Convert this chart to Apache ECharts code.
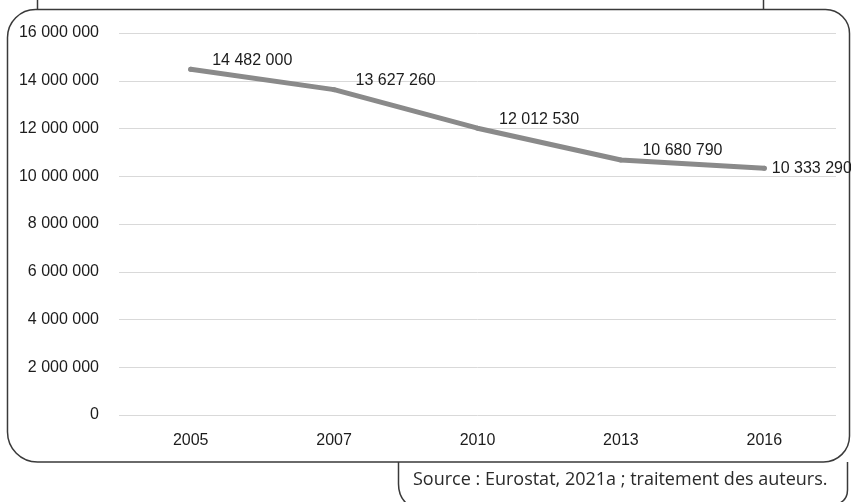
<!DOCTYPE html>
<html>
<head>
<meta charset="utf-8">
<style>
  html, body { margin: 0; padding: 0; background: #ffffff; }
  #chart { width: 851px; height: 502px; }
</style>
<script src="https://cdn.jsdelivr.net/npm/echarts@6/dist/echarts.min.js"></script>
</head>
<body>
<div id="chart"></div>
<script>
// Years and values of the series
const years = ['2005', '2007', '2010', '2013', '2016'];
const values = [14482000, 13627260, 12012530, 10680790, 10333290];

// Value axis range
const yMin = 0;
const yMax = 16000000;
const yStep = 2000000;

const sourceText = 'Source : Eurostat, 2021a ; traitement des auteurs.';

// French-style grouping with spaces: 14482000 -> "14 482 000"
function groupDigits(n) {
  return String(Math.round(n)).replace(/\B(?=(\d{3})+(?!\d))/g, ' ');
}

const textColor = '#1c1c1c';
const frameColor = '#3a3a3a';
const lineColor = '#8a8a8a';

const seriesData = values.map((v, i) => {
  const last = i === values.length - 1;
  return {
    value: v,
    label: { offset: last ? [0, 0] : [14, -9] }
  };
});

const frameStyle = { fill: null, stroke: frameColor, lineWidth: 1.5 };

const chart = echarts.init(document.getElementById('chart'), null, { renderer: 'canvas' });

chart.setOption({
  animation: false,
  backgroundColor: '#ffffff',
  grid: { left: 119, right: 15, top: 33, bottom: 87 },
  xAxis: {
    type: 'category',
    data: years,
    boundaryGap: true,
    axisLine: { show: false },
    axisTick: { show: false },
    axisLabel: {
      margin: 18,
      color: textColor,
      fontFamily: 'Liberation Sans, Arial, sans-serif',
      fontSize: 16
    }
  },
  yAxis: {
    type: 'value',
    min: yMin,
    max: yMax,
    interval: yStep,
    axisLine: { show: false },
    axisTick: { show: false },
    splitLine: { lineStyle: { color: '#d9d9d9', width: 1 } },
    axisLabel: {
      margin: 20,
      color: textColor,
      fontFamily: 'Liberation Sans, Arial, sans-serif',
      fontSize: 16,
      formatter: v => groupDigits(v)
    }
  },
  series: [{
    type: 'line',
    data: seriesData,
    symbol: 'circle',
    symbolSize: 5,
    showSymbol: true,
    itemStyle: { color: lineColor, borderWidth: 0 },
    lineStyle: { color: lineColor, width: 5, cap: 'round', join: 'round' },
    label: {
      show: true,
      position: 'right',
      distance: 5,
      color: textColor,
      fontFamily: 'Liberation Sans, Arial, sans-serif',
      fontSize: 16,
      formatter: p => groupDigits(p.value)
    }
  }],
  graphic: [
    // outer frame around the plot
    {
      type: 'rect',
      silent: true,
      shape: { x: 7.5, y: 9.5, width: 842, height: 452.5, r: [28, 24, 26, 30] },
      style: frameStyle
    },
    // stubs of the frame above
    {
      type: 'line',
      silent: true,
      shape: { x1: 37.5, y1: 0, x2: 37.5, y2: 9.5 },
      style: frameStyle
    },
    {
      type: 'line',
      silent: true,
      shape: { x1: 763.5, y1: 0, x2: 763.5, y2: 9.5 },
      style: frameStyle
    },
    // source note box: left side
    {
      type: 'line',
      silent: true,
      shape: { x1: 398.5, y1: 462, x2: 398.5, y2: 484 },
      style: frameStyle
    },
    {
      type: 'bezierCurve',
      silent: true,
      shape: { x1: 398.5, y1: 484, cpx1: 398.5, cpy1: 496, x2: 406, y2: 503 },
      style: frameStyle
    },
    // source note box: right side
    {
      type: 'line',
      silent: true,
      shape: { x1: 847.5, y1: 462, x2: 847.5, y2: 490 },
      style: frameStyle
    },
    {
      type: 'bezierCurve',
      silent: true,
      shape: { x1: 847.5, y1: 490, cpx1: 847.5, cpy1: 499, x2: 840, y2: 503 },
      style: frameStyle
    },
    {
      type: 'text',
      silent: true,
      x: 413,
      y: 480,
      style: {
        text: sourceText,
        fill: '#2a2a2a',
        font: '18px "Open Sans", "Noto Sans", sans-serif',
        textAlign: 'left',
        textVerticalAlign: 'middle'
      }
    }
  ]
});
</script>
</body>
</html>
